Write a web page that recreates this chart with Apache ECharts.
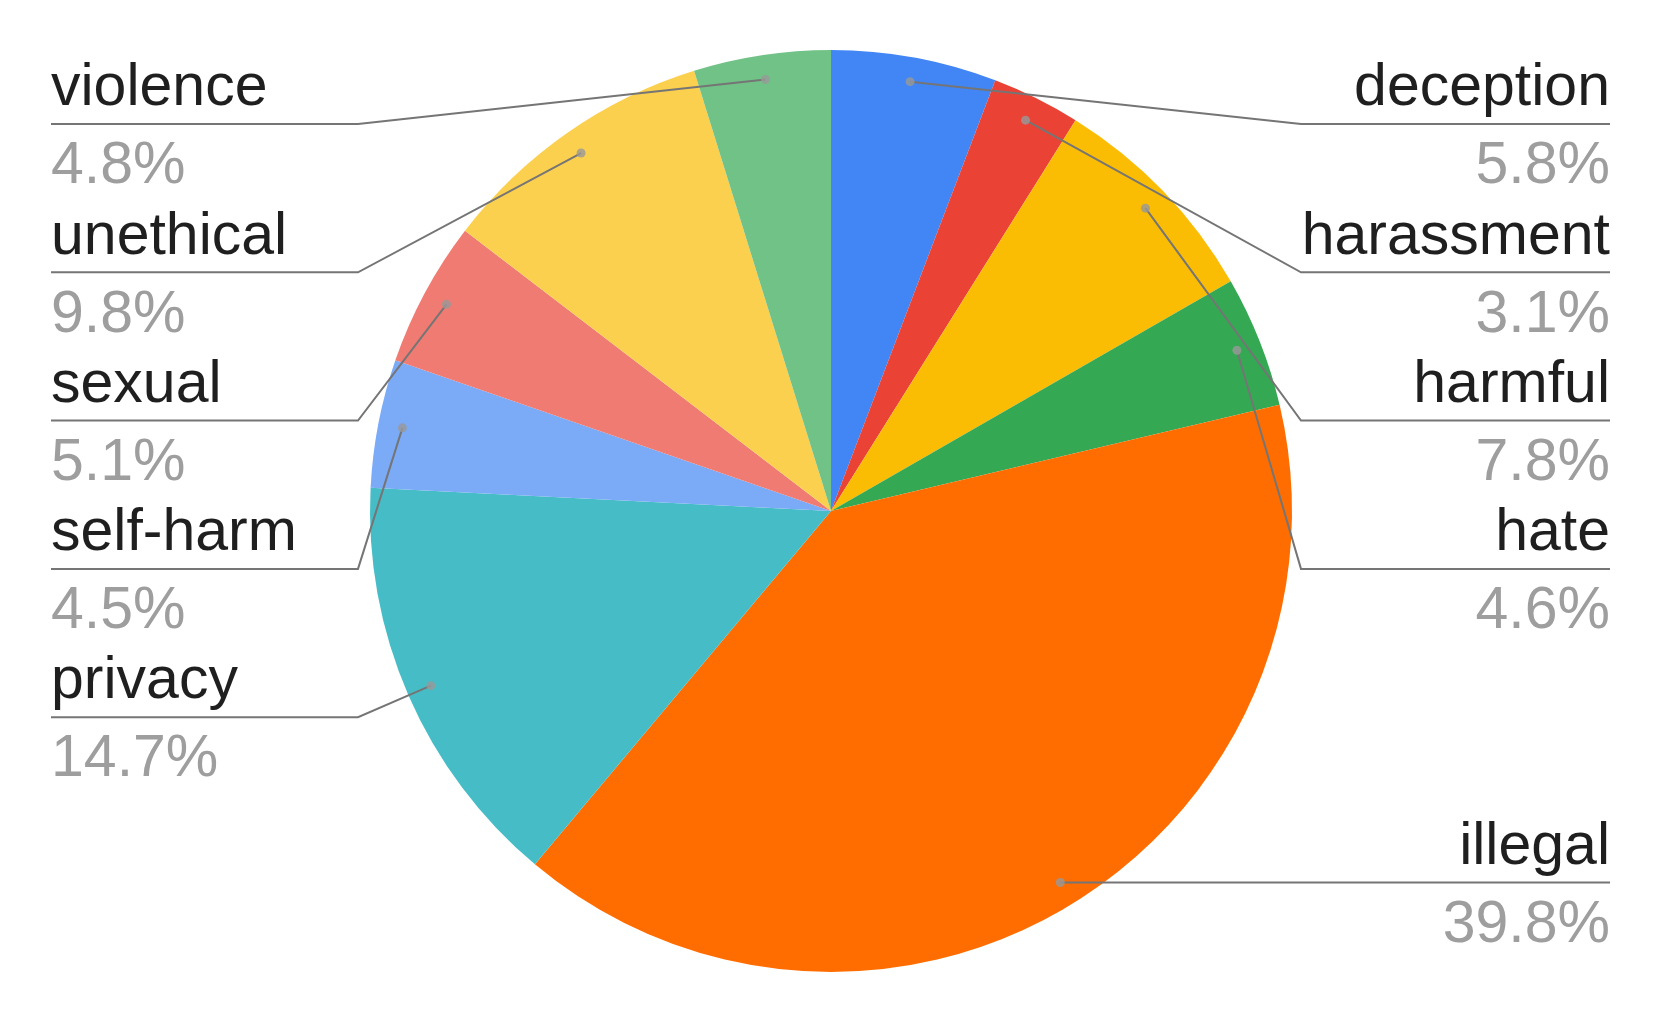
<!DOCTYPE html>
<html>
<head>
<meta charset="utf-8">
<script src="https://cdn.jsdelivr.net/npm/echarts@6/dist/echarts.min.js"></script>
<style>
  html, body { margin: 0; padding: 0; background: #fff; }
  #chart { width: 1661px; height: 1022px; }
</style>
</head>
<body>
<div id="chart"></div>
<script>
// slices clockwise from 12 o'clock
const categories = ['deception', 'harassment', 'harmful', 'hate', 'illegal',
  'privacy', 'self-harm', 'sexual', 'unethical', 'violence'];
const shares = [5.8, 3.1, 7.8, 4.6, 39.8, 14.7, 4.5, 5.1, 9.8, 4.8];
const colors = ['#4285f4', '#ea4335', '#fbbc04', '#34a853', '#ff6d01',
  '#46bdc6', '#7baaf7', '#f07b72', '#fcd04f', '#71c287'];

const cx = 831, cy = 511, R = 461;
const dotR = 0.947;         // where the leader lines start, fraction of radius
const rowTop = 124, rowGap = 148.3;
const leftX = 51, rightX = 1610, leftElbow = 358, rightElbow = 1301;
const font = '"Liberation Sans", Arial, sans-serif';

const total = shares.reduce((a, b) => a + b, 0);
let acc = 0;
const midPct = shares.map(v => { const m = acc + v / 2; acc += v; return m / total * 100; });

// pick the underline row for each label: stack from the top on each side
const rowY = new Array(categories.length);
(function () {
  const right = [], left = [];
  midPct.forEach((m, i) => (m < 50 ? right : left).push(i));
  left.reverse(); // left side counts up from the bottom, list it top first
  [right, left].forEach(side => {
    let prev = rowTop - rowGap;
    side.forEach(i => {
      const a = midPct[i] / 100 * Math.PI * 2;
      const dy = cy - R * dotR * Math.cos(a);
      const y = Math.max(prev + rowGap, dy);
      rowY[i] = y;
      prev = y;
    });
  });
})();

const pieData = categories.map((n, i) => ({ name: n, value: shares[i] }));

const chart = echarts.init(document.getElementById('chart'));
chart.setOption({
  animation: false,
  color: colors,
  polar: { center: [cx, cy], radius: R },
  angleAxis: { type: 'value', min: 0, max: 100, startAngle: 90, clockwise: true, show: false },
  radiusAxis: { type: 'value', min: 0, max: 1, show: false },
  series: [
    {
      // the slices
      type: 'pie',
      center: [cx, cy],
      radius: R,
      startAngle: 90,
      clockwise: true,
      silent: true,
      z: 2,
      data: pieData,
      label: { show: false },
      labelLine: { show: false }
    },
    {
      // same pie, see-through, only to carry labels and leader lines on top
      type: 'pie',
      center: [cx, cy],
      radius: R,
      startAngle: 90,
      clockwise: true,
      silent: true,
      z: 4,
      data: pieData,
      itemStyle: { color: 'rgba(0,0,0,0)' },
      label: {
        show: true,
        position: 'outside',
        fontFamily: font,
        formatter: p => '{n|' + p.name + '}\n{p|' + p.value.toFixed(1) + '%}',
        rich: {
          n: { fontSize: 59, lineHeight: 72, color: '#1f1f1f', fontFamily: font },
          p: { fontSize: 59, lineHeight: 84, color: '#9e9e9e', fontFamily: font }
        }
      },
      labelLine: {
        show: true,
        lineStyle: { color: '#757575', width: 2 }
      },
      labelLayout: function (params) {
        const i = params.dataIndex;
        const a = midPct[i] / 100 * Math.PI * 2;
        const dx = cx + R * dotR * Math.sin(a);
        const dy = cy - R * dotR * Math.cos(a);
        const isRight = midPct[i] < 50;
        const y = rowY[i];
        const elbow = isRight ? Math.max(rightElbow, dx) : leftElbow;
        return {
          x: isRight ? rightX : leftX,
          y: y - 72 + 1,
          align: isRight ? 'right' : 'left',
          verticalAlign: 'top',
          labelLinePoints: [[dx, dy], [elbow, y], [isRight ? rightX : leftX, y]]
        };
      }
    },
    {
      type: 'scatter',
      coordinateSystem: 'polar',
      silent: true,
      z: 6,
      symbolSize: 9,
      itemStyle: { color: '#999999' },
      data: midPct.map(m => [dotR, m])
    }
  ]
});
</script>
</body>
</html>
